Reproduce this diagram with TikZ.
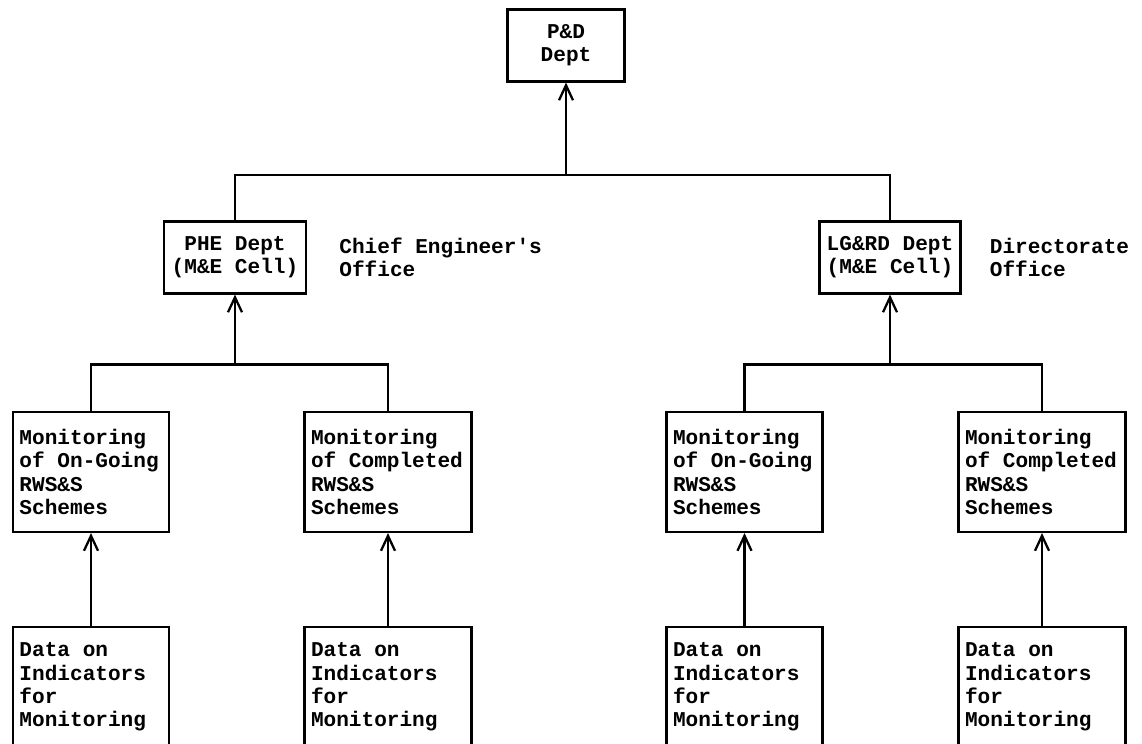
\documentclass[tikz,border=0pt]{standalone}
\usepackage{fontspec}
\setmonofont{Liberation Mono}
\usetikzlibrary{arrows.meta,positioning}

\begin{document}
\begin{tikzpicture}[
  every node/.style={font=\ttfamily\bfseries\fontsize{12}{13.2}\selectfont},
  dept/.style={rectangle, draw, line width=1.2pt, minimum height=1.44cm, align=center},
  mon/.style={rectangle, draw, line width=1.2pt, minimum height=2.40cm, inner xsep=0.13cm, text width=#1, align=flush left},
  note/.style={inner sep=0pt, align=flush left},
  link/.style={line width=1.3pt},
  up/.style={line width=1.3pt, -{Straight Barb[length=0.3cm,width=0.28cm]}}
]
\useasboundingbox (0,0) rectangle (22.84,14.86);

% top of the chain
\node[dept, minimum width=2.34cm] (pd) at (11.32,13.95) {P\&D\\Dept};

% the two departments
\node[dept, minimum width=2.84cm] (phe) at (4.70,9.71) {PHE Dept\\(M\&E Cell)};
\node[dept, minimum width=2.82cm] (lg) at (17.80,9.71) {LG\&RD Dept\\(M\&E Cell)};
\node[note, right=0.64cm of phe] (ceo) {Chief Engineer's\\Office};
\node[note, right=0.56cm of lg] (dir) {Directorate\\Office};

% monitoring boxes
\node[mon=2.86cm] (mon1) at (1.82,5.42) {Monitoring\\of On-Going\\RWS\&S\\Schemes};
\node[mon=3.08cm] (mon2) at (7.76,5.42) {Monitoring\\of Completed\\RWS\&S\\Schemes};
\node[mon=2.86cm] (mon3) at (14.89,5.42) {Monitoring\\of On-Going\\RWS\&S\\Schemes};
\node[mon=3.08cm] (mon4) at (20.84,5.42) {Monitoring\\of Completed\\RWS\&S\\Schemes};

% data boxes, cut by the lower edge
\node[mon=2.86cm] (data1) at (1.82,1.12) {Data on\\Indicators\\for\\Monitoring};
\node[mon=3.08cm] (data2) at (7.76,1.12) {Data on\\Indicators\\for\\Monitoring};
\node[mon=2.86cm] (data3) at (14.89,1.12) {Data on\\Indicators\\for\\Monitoring};
\node[mon=3.08cm] (data4) at (20.84,1.12) {Data on\\Indicators\\for\\Monitoring};

% joints of the bars
\coordinate (topbar) at (11.32,11.36);
\coordinate (lbar) at (4.70,7.57);
\coordinate (rbar) at (17.80,7.57);

\draw[link] (phe.north) |- (topbar) -| (lg.north);
\draw[up] (topbar) -- (pd);

\draw[link] (mon1.north) |- (lbar) -| (mon2.north);
\draw[up] (lbar) -- (phe);
\draw[link] (mon3.north) |- (rbar) -| (mon4.north);
\draw[up] (rbar) -- (lg);

\draw[up] (data1) -- (mon1);
\draw[up] (data2) -- (mon2);
\draw[up] (data3) -- (mon3);
\draw[up] (data4) -- (mon4);
\end{tikzpicture}
\end{document}
